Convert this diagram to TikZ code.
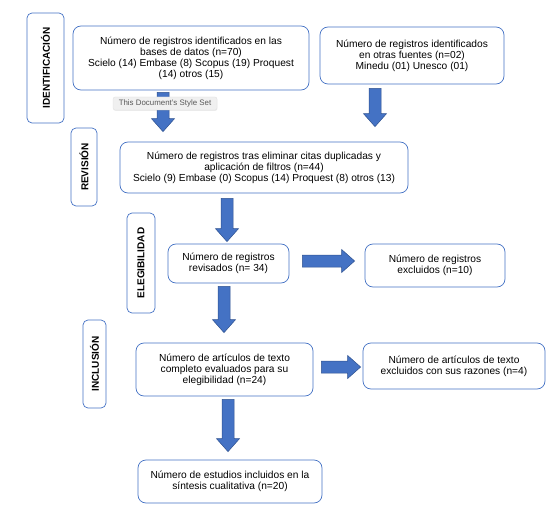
\documentclass[tikz,border=0pt]{standalone}
\usepackage{fontspec}
\setmainfont{Liberation Sans}
\usetikzlibrary{calc,shadows}
\definecolor{boxline}{HTML}{4472C4}
\definecolor{arrowfill}{HTML}{4472C4}
\definecolor{arrowline}{HTML}{2F528F}
\begin{document}
\begin{tikzpicture}[x=1pt,y=-1pt]
    \tikzstyle{stage}=[draw=boxline,line width=0.7pt,rounded corners=5pt,rotate=90,font=\fontsize{10}{11}\selectfont\bfseries,inner sep=0pt]
    \tikzstyle{record}=[draw=boxline,line width=0.7pt,rounded corners=8pt,align=center,font=\fontsize{10.2}{11}\selectfont,inner sep=0pt]
    \tikzstyle{blockarrow}=[draw=arrowline,fill=arrowfill,line width=0.5pt,to path={
        ($(\tikztostart)!6pt!90:(\tikztotarget)$)
        -- ($(\tikztotarget)!13pt!(\tikztostart)!6pt!90:(\tikztotarget)$)
        -- ($(\tikztotarget)!13pt!(\tikztostart)!11.5pt!90:(\tikztotarget)$)
        -- (\tikztotarget)
        -- ($(\tikztotarget)!13pt!(\tikztostart)!11.5pt!-90:(\tikztotarget)$)
        -- ($(\tikztotarget)!13pt!(\tikztostart)!6pt!-90:(\tikztotarget)$)
        -- ($(\tikztostart)!6pt!-90:(\tikztotarget)$) -- cycle}]
    \tikzstyle{tooltip}=[fill=gray!12,draw=gray!25,line width=0.3pt,rounded corners=2pt,text=gray!70!black,font=\fontsize{7.9}{8}\selectfont,minimum width=104pt,minimum height=13pt,inner sep=0pt,drop shadow={opacity=0.15,shadow xshift=0.4pt,shadow yshift=-0.8pt}]

    \useasboundingbox (0,0) rectangle (557,508);

    \node[stage,minimum width=110pt,minimum height=37pt] at (45.5,68) (idf) {IDENTIFICACIÓN};
    \node[stage,minimum width=78pt,minimum height=26pt] at (84,167) (rev) {REVISIÓN};
    \node[stage,minimum width=100pt,minimum height=28pt] at (141,263) (elg) {ELEGIBILIDAD};
    \node[stage,minimum width=88pt,minimum height=23pt] at (94.5,364) (inc) {INCLUSIÓN};

    \node[record,minimum width=236pt,minimum height=64pt] at (191,58) (dbase) {Número de registros identificados en las\\bases de datos (n=70)\\Scielo (14) Embase (8) Scopus (19) Proquest\\(14) otros (15)};
    \node[record,minimum width=184pt,minimum height=57pt] at (412,55.5) (otras) {Número de registros identificados\\en otras fuentes (n=02)\\Minedu (01) Unesco (01)};
    \node[record,minimum width=288pt,minimum height=51pt] at (264,167.5) (filtro) {Número de registros tras eliminar citas duplicadas y\\aplicación de filtros (n=44)\\Scielo (9) Embase (0) Scopus (14) Proquest (8) otros (13)};
    \node[record,minimum width=121pt,minimum height=39pt] at (228.5,263.5) (revis) {Número de registros\\revisados (n= 34)};
    \node[record,minimum width=140pt,minimum height=43pt] at (435,265.5) (excl) {Número de registros\\excluidos (n=10)};
    \node[record,minimum width=177pt,minimum height=53pt] at (224.5,369.5) (texto) {Número de artículos de texto\\completo evaluados para su\\elegibilidad (n=24)};
    \node[record,minimum width=182pt,minimum height=46pt] at (454,366) (razon) {Número de artículos de texto\\excluidos con sus razones (n=4)};
    \node[record,minimum width=184pt,minimum height=43pt] at (230,481.5) (sint) {Número de estudios incluidos en la\\síntesis cualitativa (n=20)};

    \coordinate (a1) at ([shift={(-28,2)}]dbase.south);
    \coordinate (b1) at ([shift={(-101,-10)}]filtro.north);
    \coordinate (a2) at ([shift={(-37,4)}]otras.south);
    \coordinate (b2) at ([shift={(111,-15)}]filtro.north);
    \coordinate (a3) at ([shift={(-37,5)}]filtro.south);
    \coordinate (b3) at ([shift={(-1.5,-2)}]revis.north);
    \coordinate (a4) at ([shift={(13,-2.5)}]revis.east);
    \coordinate (b4) at ([shift={(-10,-4.5)}]excl.west);
    \coordinate (a5) at ([shift={(-4.5,3)}]revis.south);
    \coordinate (b5) at ([shift={(-0.5,-10)}]texto.north);
    \coordinate (a6) at ([shift={(8,-2.5)}]texto.east);
    \coordinate (b6) at ([shift={(-2,1)}]razon.west);
    \coordinate (a7) at ([shift={(3.5,3)}]texto.south);
    \coordinate (b7) at ([shift={(-2,-8)}]sint.north);

    \draw[blockarrow] (a1) to (b1);
    \draw[blockarrow] (a2) to (b2);
    \draw[blockarrow] (a3) to (b3);
    \draw[blockarrow] (a4) to (b4);
    \draw[blockarrow] (a5) to (b5);
    \draw[blockarrow] (a6) to (b6);
    \draw[blockarrow] (a7) to (b7);

    \node[tooltip] at (165,103.5) (tip) {This Document's Style Set};
\end{tikzpicture}
\end{document}
